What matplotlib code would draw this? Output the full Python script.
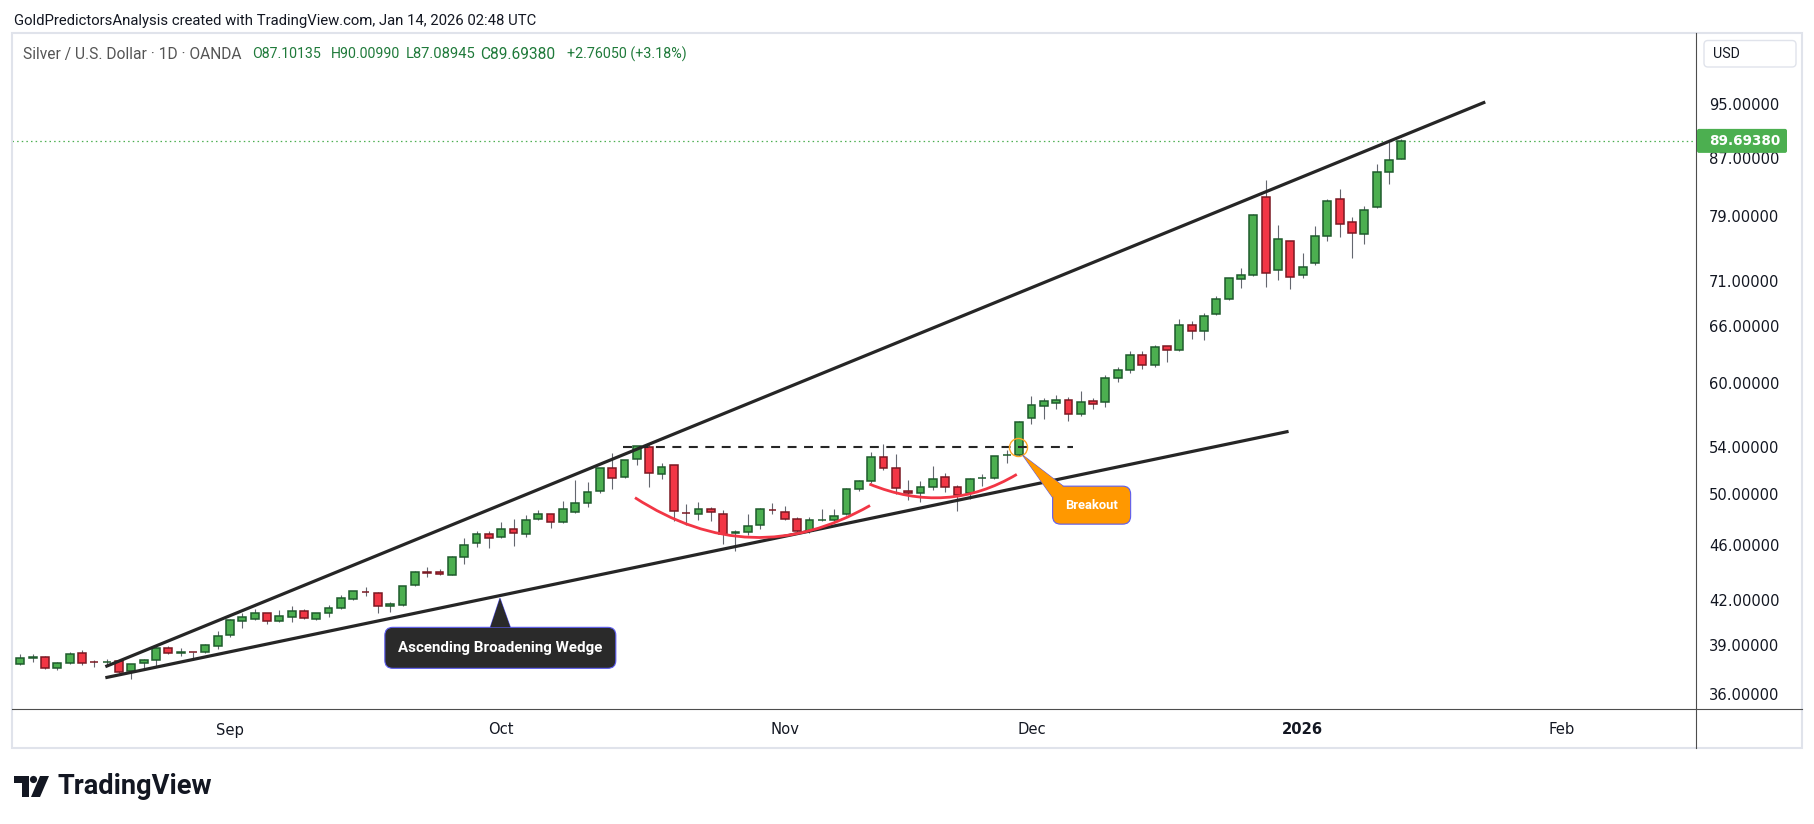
import numpy as np
import matplotlib.pyplot as plt
import matplotlib.patches as mpatches
import matplotlib.transforms as mtransforms
from matplotlib.lines import Line2D
from matplotlib.path import Path

W, H, DPI = 1815, 824, 100
plt.rcParams['font.family'] = ['DejaVu Sans']
UI_FONT = ['Roboto', 'DejaVu Sans']

# Silver / U.S. Dollar, 1D, OANDA - one candle per weekday
opens = [37.86, 38.29, 38.30, 37.62, 37.92, 38.56, 38.01, 37.99, 38.05, 37.45,
         37.92, 38.11, 38.88, 38.61, 38.63, 38.62, 39.00, 39.72, 40.65, 40.78,
         41.18, 40.65, 40.91, 41.32, 40.78, 41.18, 41.53, 42.15, 42.65, 42.57,
         41.66, 41.73, 43.13, 44.07, 44.06, 43.87, 45.16, 46.22, 46.91, 46.67,
         47.29, 46.91, 48.08, 48.49, 47.85, 48.64, 49.37, 50.35, 52.30, 51.53,
         53.08, 54.13, 51.79, 52.56, 48.57, 48.49, 48.89, 48.49, 47.05, 47.06,
         47.61, 48.82, 48.64, 48.08, 47.14, 48.00, 48.01, 48.49, 50.52, 51.19,
         53.26, 52.30, 50.35, 50.19, 50.68, 51.53, 50.68, 50.19, 51.43, 51.44,
         53.42, 53.43, 56.79, 57.95, 58.22, 58.50, 57.16, 58.40, 58.31, 60.70,
         61.50, 63.00, 61.97, 63.96, 63.54, 66.19, 65.54, 67.40, 69.09, 71.40,
         71.88, 81.73, 72.55, 76.02, 71.88, 73.31, 76.65, 81.46, 78.44, 76.90,
         80.40, 85.17, 87.10]
highs = [38.51, 38.49, 38.37, 38.00, 38.64, 38.77, 38.13, 38.19, 38.06, 37.88,
         38.19, 39.09, 39.00, 38.88, 38.64, 39.13, 39.98, 40.78, 41.18, 41.46,
         41.20, 41.39, 41.68, 41.46, 41.22, 41.74, 42.43, 42.73, 43.01, 42.64,
         41.94, 43.08, 44.13, 44.43, 44.28, 45.23, 46.60, 47.14, 47.14, 47.85,
         48.08, 48.41, 48.81, 48.51, 49.53, 51.27, 51.11, 52.35, 53.61, 53.05,
         54.28, 54.50, 52.73, 52.60, 49.29, 49.45, 49.05, 48.81, 47.22, 48.49,
         48.97, 49.37, 49.13, 48.24, 48.24, 48.89, 48.89, 50.60, 51.27, 53.70,
         54.41, 53.52, 51.27, 51.19, 52.47, 51.87, 50.85, 51.44, 51.79, 53.36,
         53.87, 56.51, 58.89, 58.69, 58.98, 58.79, 59.38, 58.69, 60.96, 61.80,
         63.40, 63.40, 64.06, 63.98, 66.85, 66.63, 67.52, 69.43, 71.55, 72.71,
         79.47, 84.06, 78.05, 76.05, 74.53, 77.93, 81.46, 82.82, 79.09, 80.53,
         86.30, 89.48, 90.01]
lows = [37.80, 38.02, 37.60, 37.53, 37.90, 37.84, 37.72, 37.78, 37.35, 36.98,
        37.59, 37.68, 38.54, 38.37, 38.11, 38.60, 38.81, 39.59, 40.18, 40.71,
        40.45, 40.63, 40.58, 40.83, 40.76, 40.95, 41.46, 42.08, 42.36, 41.18,
        41.25, 41.70, 43.05, 43.70, 43.84, 43.85, 44.64, 45.97, 45.90, 46.62,
        45.99, 46.68, 48.00, 47.37, 47.82, 48.57, 49.05, 50.22, 50.52, 51.50,
        52.56, 50.68, 51.36, 47.93, 47.61, 48.01, 47.93, 46.14, 45.61, 46.83,
        47.29, 48.49, 48.06, 46.91, 46.98, 47.93, 47.98, 48.45, 50.35, 51.02,
        52.12, 50.10, 49.61, 49.45, 50.43, 50.27, 48.72, 49.70, 50.77, 51.40,
        52.73, 53.40, 56.23, 56.70, 57.64, 56.51, 56.98, 57.64, 57.83, 60.30,
        61.20, 61.60, 61.83, 62.27, 63.50, 64.69, 64.61, 67.30, 69.00, 70.36,
        71.80, 70.56, 71.29, 70.24, 71.52, 73.07, 76.02, 76.52, 73.92, 75.69,
        80.36, 83.50, 87.09]
closes = [38.24, 38.30, 37.62, 37.92, 38.49, 37.98, 38.00, 38.00, 37.37, 37.86,
          38.11, 38.88, 38.56, 38.62, 38.62, 39.07, 39.65, 40.71, 40.91, 41.18,
          40.65, 40.98, 41.32, 40.85, 41.18, 41.53, 42.22, 42.71, 42.63, 41.66,
          41.80, 43.06, 44.06, 44.05, 43.91, 45.16, 46.07, 46.91, 46.60, 47.29,
          46.98, 48.01, 48.49, 47.85, 48.89, 49.37, 50.27, 52.30, 51.44, 53.00,
          54.22, 51.87, 52.38, 48.72, 48.55, 48.89, 48.65, 46.91, 47.06, 47.53,
          48.89, 48.80, 48.08, 47.14, 48.01, 48.01, 48.33, 50.52, 51.19, 53.26,
          52.30, 50.60, 50.19, 50.68, 51.36, 50.68, 50.02, 51.36, 51.44, 53.34,
          53.43, 56.42, 58.01, 58.40, 58.50, 57.16, 58.31, 58.12, 60.66, 61.50,
          63.00, 62.00, 63.85, 63.54, 66.19, 65.54, 67.18, 69.09, 71.52, 71.88,
          79.34, 72.11, 76.27, 71.65, 72.84, 76.65, 81.20, 78.19, 77.03, 80.00,
          85.17, 86.93, 89.69]

month_pos = [17, 39, 62, 82, 104, 125]
month_lbl = ['Sep', 'Oct', 'Nov', 'Dec', '2026', 'Feb']
price_ticks = [36, 39, 42, 46, 50, 54, 60, 66, 71, 79, 87, 95]
last_price = 89.69380
ohlc_text = ['O87.10135', 'H90.00990', 'L87.08945', 'C89.69380', '+2.76050 (+3.18%)']

# drawings, as (bar index, price)
upper_line = ([6.9, 118.8], [37.72, 95.63])
lower_line = ([6.9, 102.85], [37.04, 55.58])
neck_x, neck_y = [48.9, 85.4], 54.18
cup_1 = [(49.85, 49.83), (59.3, 44.0), (68.91, 49.19)]
cup_2 = [(68.86, 50.96), (75.16, 48.36), (80.81, 51.78)]
breakout_pt = (80.94, 54.18)

fig = plt.figure(figsize=(W / DPI, H / DPI), dpi=DPI)
fig.patch.set_facecolor('white')
PIX = mtransforms.IdentityTransform()
renderer = fig.canvas.get_renderer()


def P(x, y):
	# picture pixel (origin top left) -> display pixel
	return x, H - y


def fit(t, width):
	w = t.get_window_extent(renderer).width
	t.set_fontsize(t.get_fontsize() * width / w)
	return t.get_fontsize()


ax = fig.add_axes([12 / W, 1 - 709 / H, (1696 - 12) / W, (709 - 33) / H])
ax.set_yscale('log')
ax.axis('off')

# candles
x = np.arange(len(opens))
o, hi, lo, c = (np.array(v) for v in (opens, highs, lows, closes))
up = c >= o
ax.vlines(x, lo, hi, color='#64676f', lw=0.8, zorder=2)
ax.bar(x, np.maximum(np.abs(c - o), 0.015), width=0.64, bottom=np.minimum(o, c),
       color=['#4caf50' if u else '#f23645' for u in up],
       edgecolor=['#1e5b2c' if u else '#7a1822' for u in up], linewidth=1.1, zorder=3)
ax.set_xlim(-0.67, 135.89)
ax.set_ylim(35.18, 107.14)

ax.axhline(last_price, color='#4caf50', lw=0.9, ls=(0, (1.2, 2.5)), zorder=1)

# wedge, neckline, cups
ax.plot(*upper_line, color='#262626', lw=2.3, solid_capstyle='butt', zorder=4)
ax.plot(*lower_line, color='#262626', lw=2.3, solid_capstyle='butt', zorder=4)
ax.hlines(neck_y, *neck_x, colors='#262626', lw=1.5, linestyles=(0, (4.3, 3.6)), zorder=4)
for cup in (cup_1, cup_2):
	path = Path(cup, [Path.MOVETO, Path.CURVE3, Path.CURVE3])
	ax.add_patch(mpatches.PathPatch(path, fill=False, ec='#f23645', lw=2.0, zorder=4))
ax.plot(*breakout_pt, 'o', ms=13, mfc='none', mec='#ffa726', mew=1.0, zorder=5)


def callout(center, tip, w, h, base, text, fc, text_w):
	cx, cy = ax.transData.transform(center)
	tx, ty = ax.transData.transform(tip)
	tail = [(tx, ty), (cx + base[0][0], cy + base[0][1]), (cx + base[1][0], cy + base[1][1])]
	fig.add_artist(mpatches.Polygon(tail, closed=True, fc=fc, ec='#5c5cf0', lw=0.8,
	                                transform=PIX, zorder=6))
	fig.add_artist(mpatches.FancyBboxPatch((cx - w / 2, cy - h / 2), w, h,
	                                       boxstyle='round,pad=0,rounding_size=8',
	                                       fc=fc, ec='#5c5cf0', lw=0.8, transform=PIX, zorder=6))
	fig.add_artist(mpatches.Polygon(tail, closed=True, fc=fc, ec='none',
	                                transform=PIX, zorder=6))
	t = fig.text(cx, cy, text, transform=PIX, ha='center', va='center', color='white',
	             fontweight='bold', fontsize=9, family=UI_FONT, zorder=7)
	fit(t, text_w)


callout((86.88, 49.22), (81.3, 53.43), 78, 38, [(-28.5, 19), (-39.2, 8)],
        'Breakout', '#ff9800', 53)
callout((38.93, 38.91), (38.9, 42.22), 231, 41, [(-10, 20.5), (10, 20.5)],
        'Ascending Broadening Wedge', '#2a2a2a', 204)

# price axis labels
blend_y = mtransforms.blended_transform_factory(ax.transAxes, ax.transData)
ax_w = 1696 - 12
labels = []
for p in price_ticks:
	labels.append(ax.text(1 + 13 / ax_w, p, f'{p:.5f}', transform=blend_y, ha='left',
	                      va='center', color='#131722', fontsize=10, clip_on=False))
fs = fit(labels[0], 70)
for t in labels:
	t.set_fontsize(fs)

# last price tag
yd = ax.transData.transform((0, last_price))[1]
fig.add_artist(mpatches.FancyBboxPatch((1697, yd - 12), 90, 24, boxstyle='round,pad=0,rounding_size=2',
                                       fc='#4caf50', ec='none', transform=PIX, zorder=5))
tp = fig.text(1709, yd, f'{last_price:.5f}', transform=PIX, ha='left', va='center',
              color='white', fontweight='bold', fontsize=fs, zorder=6)
fit(tp, 71)

# time axis labels
blend_x = mtransforms.blended_transform_factory(ax.transData, ax.transAxes)
for pos, lab in zip(month_pos, month_lbl):
	ax.text(pos, -21 / 676, lab, transform=blend_x, ha='center', va='center',
	        color='#131722', fontsize=fs, fontweight='bold' if lab == '2026' else 'normal',
	        clip_on=False)

# chart frame and separators
fig.add_artist(mpatches.Rectangle(P(12, 748), 1790, 715, fill=False, ec='#e0e3eb', lw=1.5,
                                  transform=PIX, zorder=2))
fig.add_artist(Line2D([1696, 1696], [H - 33, H - 748], transform=PIX, color='#4d4d4d', lw=0.8))
fig.add_artist(Line2D([12, 1802], [H - 709, H - 709], transform=PIX, color='#4d4d4d', lw=0.8))

# USD button
fig.add_artist(mpatches.FancyBboxPatch(P(1704, 67), 92, 26.5, boxstyle='round,pad=0,rounding_size=4',
                                       fc='white', ec='#e0e3eb', lw=1, transform=PIX))
t = fig.text(*P(1713, 54), 'USD', transform=PIX, ha='left', va='center', color='#131722',
             fontsize=9, family=UI_FONT)
fit(t, 27)

# header lines
t = fig.text(*P(14, 20.7), 'GoldPredictorsAnalysis created with TradingView.com, Jan 14, 2026 02:48 UTC',
             transform=PIX, ha='left', va='center', color='#131722', fontsize=9, family=UI_FONT)
fit(t, 526)
t = fig.text(*P(23, 54.3), 'Silver / U.S. Dollar \u00b7 1D \u00b7 OANDA', transform=PIX,
             ha='left', va='center', color='#555555', fontsize=9, family=UI_FONT)
fit(t, 218)
for xs, xe, s in zip([252, 331, 406, 480, 567], [321, 401, 476, 556, 687], ohlc_text):
	t = fig.text(*P(xs, 54.3), s, transform=PIX, ha='left', va='center', color='#1f7a3a',
	             fontsize=9, family=UI_FONT)
	fit(t, xe - xs)

# TradingView logo
fig.add_artist(mpatches.Polygon([P(14, 776), P(29, 776), P(29, 797), P(22, 797), P(22, 783), P(14, 783)],
                                fc='#131722', ec='none', transform=PIX))
fig.add_artist(mpatches.Circle(P(33.5, 779.5), 3.6, fc='#131722', ec='none', transform=PIX))
fig.add_artist(mpatches.Polygon([P(40, 776), P(49, 776), P(40, 797), P(31, 797)],
                                fc='#131722', ec='none', transform=PIX))
t = fig.text(*P(58, 786.5), 'TradingView', transform=PIX, ha='left', va='center',
             color='#131722', fontweight='bold', fontsize=15, family=UI_FONT)
fit(t, 155)

fig.savefig('out.png', dpi=DPI, facecolor='white')
